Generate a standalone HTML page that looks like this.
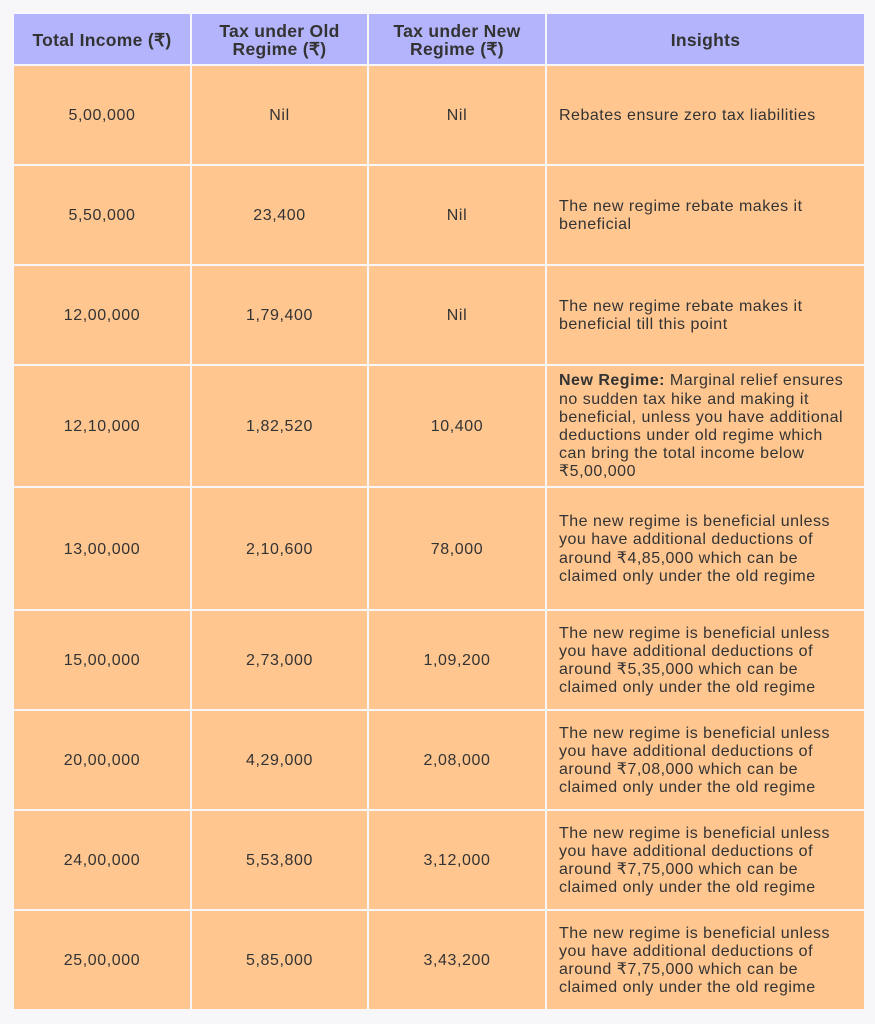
<!DOCTYPE html>
<html><head><meta charset="utf-8"><style>
body{margin:0;width:875px;height:1024px;background:#f7f7f9;position:relative;overflow:hidden;font-family:"Liberation Sans",sans-serif;color:#333;}
.c{position:absolute;background:#ffc690;display:flex;align-items:center;justify-content:center;text-align:center;font-size:16px;letter-spacing:0.6px;box-sizing:border-box;padding-top:2px;}
.h{background:#b4b4fc;font-weight:bold;font-size:17.5px;line-height:18px;color:#333;letter-spacing:0.3px;}
.i{justify-content:flex-start;text-align:left;padding-left:12px;line-height:18.2px;white-space:nowrap;letter-spacing:0.5px;}
</style></head><body>
<div id="t"></div>
<script>
const xs=[14,192,369,547,866];
const ys=[14,66,166,266,366,488,611,711,811,911,1011];
const rows=[
["Total Income (₹)","Tax under Old<br>Regime (₹)","Tax under New<br>Regime (₹)","Insights"],
["5,00,000","Nil","Nil","Rebates ensure zero tax liabilities"],
["5,50,000","23,400","Nil","The new regime rebate makes it<br>beneficial"],
["12,00,000","1,79,400","Nil","The new regime rebate makes it<br>beneficial till this point"],
["12,10,000","1,82,520","10,400","<b>New Regime:</b> Marginal relief ensures<br>no sudden tax hike and making it<br>beneficial, unless you have additional<br>deductions under old regime which<br>can bring the total income below<br>₹5,00,000"],
["13,00,000","2,10,600","78,000","The new regime is beneficial unless<br>you have additional deductions of<br>around ₹4,85,000 which can be<br>claimed only under the old regime"],
["15,00,000","2,73,000","1,09,200","The new regime is beneficial unless<br>you have additional deductions of<br>around ₹5,35,000 which can be<br>claimed only under the old regime"],
["20,00,000","4,29,000","2,08,000","The new regime is beneficial unless<br>you have additional deductions of<br>around ₹7,08,000 which can be<br>claimed only under the old regime"],
["24,00,000","5,53,800","3,12,000","The new regime is beneficial unless<br>you have additional deductions of<br>around ₹7,75,000 which can be<br>claimed only under the old regime"],
["25,00,000","5,85,000","3,43,200","The new regime is beneficial unless<br>you have additional deductions of<br>around ₹7,75,000 which can be<br>claimed only under the old regime"]];
let h="";
rows.forEach((r,ri)=>{r.forEach((txt,ci)=>{
let cls="c"+(ri==0?" h":"")+(ri>0&&ci==3?" i":"");
h+=`<div class="${cls}" style="left:${xs[ci]}px;top:${ys[ri]}px;width:${xs[ci+1]-xs[ci]-2}px;height:${ys[ri+1]-ys[ri]-2}px">${ri>0&&ci==3?'<div>'+txt+'</div>':txt}</div>`;});});
document.getElementById("t").innerHTML=h;
</script>
</body></html>
